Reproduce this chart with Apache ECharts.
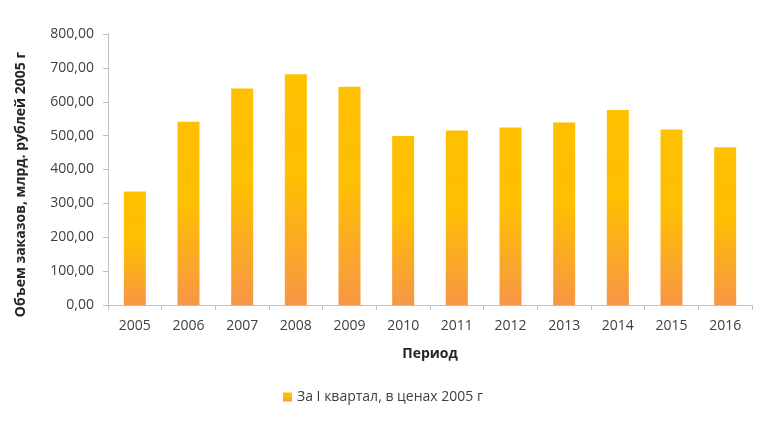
<!DOCTYPE html>
<html><head><meta charset="utf-8">
<script src="https://cdn.jsdelivr.net/npm/echarts@6/dist/echarts.min.js"></script>
<style>html,body{margin:0;padding:0;background:#fff}#c{width:766px;height:423px}</style>
</head><body><div id="c"></div>
<script>
const categories = ['2005','2006','2007','2008','2009','2010','2011','2012','2013','2014','2015','2016'];
const values = [335, 541, 639, 681, 644, 499, 515, 524, 539, 576, 518, 466];
const seriesName = 'За I квартал, в ценах 2005 г';
const yTitle = 'Объем заказов, млрд. рублей 2005 г';
const xTitle = 'Период';

const font = "'Open Sans', 'Noto Sans', sans-serif";
const grad = new echarts.graphic.LinearGradient(0, 0, 0, 1, [
  {offset: 0, color: '#FFC000'},
  {offset: 0.45, color: '#FFBF02'},
  {offset: 1, color: '#F79646'}
]);
const chart = echarts.init(document.getElementById('c'));
chart.setOption({
  animation: false,
  grid: {left: 108, right: 14, top: 34, bottom: 118},
  legend: {
    top: 385, left: 'center',
    itemWidth: 9, itemHeight: 9, icon: 'rect', itemGap: 10,
    textStyle: {color: '#404040', fontSize: 14, fontFamily: font},
    data: [seriesName]
  },
  xAxis: {
    type: 'category', data: categories,
    name: xTitle, nameLocation: 'middle', nameGap: 42,
    nameTextStyle: {fontWeight: 'bold', fontSize: 14, color: '#262626', fontFamily: font},
    axisLine: {lineStyle: {color: '#BFBFBF'}},
    axisTick: {show: true, alignWithLabel: false, length: 5, lineStyle: {color: '#BFBFBF'}},
    axisLabel: {color: '#404040', fontSize: 14, margin: 14, fontFamily: font}
  },
  yAxis: {
    type: 'value', min: 0, max: 800, interval: 100,
    name: yTitle, nameLocation: 'middle', nameGap: 80, nameRotate: 90,
    nameTextStyle: {fontWeight: 'bold', fontSize: 14, color: '#262626', fontFamily: font,
      padding: [0, 30, 0, 0]},
    axisLine: {show: true, lineStyle: {color: '#BFBFBF'}},
    axisTick: {show: true, length: 5, lineStyle: {color: '#BFBFBF'}},
    splitLine: {show: false},
    axisLabel: {color: '#404040', fontSize: 14, margin: 14, fontFamily: font,
      formatter: v => v.toFixed(2).replace('.', ',')}
  },
  series: [{
    name: seriesName, type: 'bar', data: values,
    barWidth: '41%',
    itemStyle: {color: grad}
  }]
});
</script></body></html>
